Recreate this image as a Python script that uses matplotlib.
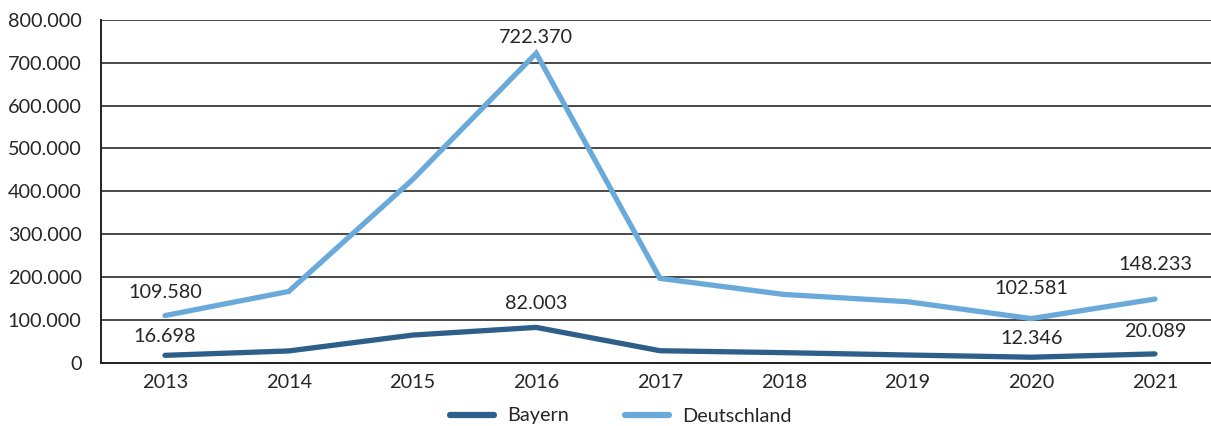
import matplotlib
matplotlib.use("Agg")
import matplotlib.pyplot as plt
from matplotlib.ticker import FuncFormatter

years = ["2013", "2014", "2015", "2016", "2017", "2018", "2019", "2020", "2021"]
bayern = [16698, 27000, 64000, 82003, 27500, 23000, 17500, 12346, 20089]
deutschland = [109580, 166000, 427000, 722370, 196500, 159000, 142000, 102581, 148233]
label_idx = [0, 3, 7, 8]
yticks = [0, 100000, 200000, 300000, 400000, 500000, 600000, 700000, 800000]

# label offsets (pixels above the point), styling only
off_bay = {0: 19, 3: 24, 7: 19, 8: 22}
off_de = {0: 23, 3: 16, 7: 30, 8: 35}

plt.rcParams['font.family'] = ['Lato', 'DejaVu Sans']
plt.rcParams['font.size'] = 14.3

c_bay = "#2E5F8A"
c_de = "#6AAADB"
txt = "#262626"

fig = plt.figure(figsize=(12.11, 4.26), dpi=100)
ax = fig.add_axes([101/1211, 1 - 362.5/426, 1 - 101/1211, (362.5 - 20)/426])

x = list(range(len(years)))
ax.plot(x, bayern, color=c_bay, lw=3.8, solid_capstyle='round', solid_joinstyle='miter', label="Bayern", zorder=3)
ax.plot(x, deutschland, color=c_de, lw=3.8, solid_capstyle='round', solid_joinstyle='miter', label="Deutschland", zorder=3)

fmt = lambda v: f"{int(v):,}".replace(",", ".")
for i in label_idx:
    ax.annotate(fmt(bayern[i]), (i, bayern[i]), xytext=(0, off_bay[i]), textcoords="offset pixels",
                ha="center", va="center", color=txt)
    ax.annotate(fmt(deutschland[i]), (i, deutschland[i]), xytext=(0, off_de[i]),
                textcoords="offset pixels", ha="center", va="center", color=txt)

ax.set_xlim(-0.517, 8.453)
ax.set_ylim(0, 800000)
ax.set_xticks(x)
ax.set_xticklabels(years)
ax.set_yticks(yticks)
ax.yaxis.set_major_formatter(FuncFormatter(lambda v, p: fmt(v)))
ax.tick_params(axis='both', length=0, colors=txt, labelsize=14.3)
ax.tick_params(axis='y', pad=14)
ax.tick_params(axis='x', pad=8)
ax.grid(axis='y', color="#3a3a3a", lw=1.3, zorder=1)
ax.set_axisbelow(True)
for s in ["top", "right"]:
    ax.spines[s].set_visible(False)
ax.spines["left"].set_color("#222222")
ax.spines["left"].set_linewidth(1.4)
ax.spines["bottom"].set_color("#222222")
ax.spines["bottom"].set_linewidth(1.4)

leg = fig.legend(loc="center", bbox_to_anchor=(621/1211, 1 - 416/426), ncol=2, frameon=False,
                 handlelength=2.2, handletextpad=0.7, columnspacing=2.8, fontsize=14.3)
for t in leg.get_texts():
    t.set_color(txt)
for l in leg.get_lines():
    l.set_linewidth(4.5)

fig.savefig("out.png", dpi=100)
